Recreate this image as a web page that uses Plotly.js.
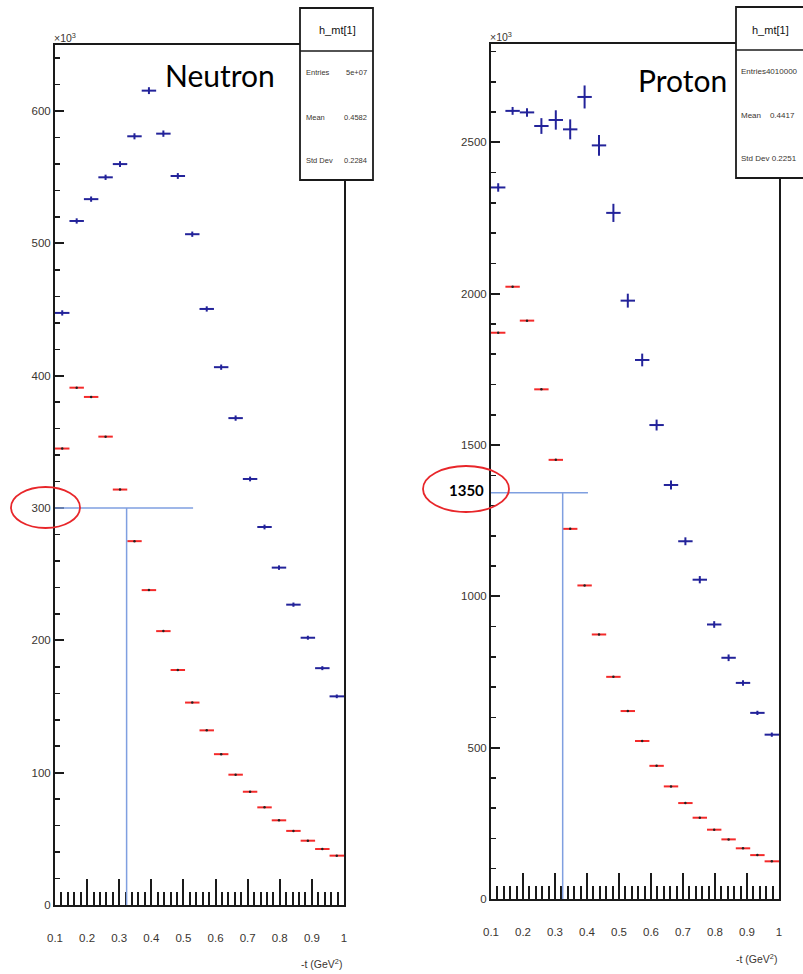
<!DOCTYPE html>
<html>
<head>
<meta charset="utf-8">
<script src="https://cdn.plot.ly/plotly-3.0.1.min.js"></script>
<style>html,body{margin:0;padding:0;background:#fff;}#chart{width:803px;height:974px;}</style>
</head>
<body>
<div id="chart"></div>
<script>
// ---- data ----
const tCenters = [0.1225,0.1675,0.2125,0.2575,0.3025,0.3475,0.3925,0.4375,0.4825,0.5275,0.5725,0.6175,0.6625,0.7075,0.7525,0.7975,0.8425,0.8875,0.9325,0.9775];
const binHalfWidth = 0.0225;
const neutronBlue = [447.5,517,533.5,550,560,581,615.5,583,551,507,450.5,406.5,368,322,285.7,255,227,202,179,157.7];
const neutronBlueErr = [2,2,2,2,2.2,2.3,2.6,2.4,2.2,2,2,2,2,1.8,1.8,1.7,1.6,1.5,1.5,1.4];
const neutronRed = [345,391,384,354,314,275,238,207,177.6,153,132,114,98.5,85.6,73.8,64,56,48.6,42.3,37.3];
const protonBlue = [2351,2604,2599,2554,2574,2543,2650,2490,2267,1977,1781,1566,1368,1182,1055,907,797,714,615,543];
const protonBlueErr = [14,13,14,26,32,33,38,34,30,23,21,18,15,13,12,11,11,9,7,7];
const protonRed = [1871,2023,1911,1684,1451,1223,1036,874,734,621,522,440,372,317,268.6,229,197,167.5,145,124.5];
const xTicks = [0.1,0.2,0.3,0.4,0.5,0.6,0.7,0.8,0.9,1.0];
const xTickText = ['0.1','0.2','0.3','0.4','0.5','0.6','0.7','0.8','0.9','1'];
const neutronYTicks = [0,100,200,300,400,500,600];
const protonYTicks = [0,500,1000,1500,2000,2500];
const neutronStats = {name:'h_mt[1]', entries:'5e+07', mean:'0.4582', std:'0.2284'};
const protonStats = {name:'h_mt[1]', entries:'4010000', mean:'0.4417', std:'0.2251'};
const neutronCut = {t:0.323, y:300, xEnd:0.53};
const protonCut = {t:0.324, y:1342, xEnd:0.403};

// ---- helpers ----
const W = 803, H = 974;
const PX = x => x / W;
const PY = y => 1 - y / H;
const BLUE = '#23239a', RED = '#f42a2a', LINEBLUE = '#7f9fe0', INK = '#1a1a1a', LBL = '#3a3530';

function histTrace(y, err, color, xa, ya, dot) {
  return {
    x: tCenters, y: y, xaxis: xa, yaxis: ya, type: 'scatter', mode: 'markers',
    marker: {size: dot ? 2.5 : 2, color: dot ? '#222' : color},
    error_x: {type:'constant', value: binHalfWidth, width: 0, thickness: 2, color: color},
    error_y: err ? {type:'data', array: err, width: 0, thickness: 2, color: color} : {visible:false},
    hoverinfo: 'skip', showlegend: false
  };
}

const data = [
  histTrace(neutronRed, null, RED, 'x', 'y', true),
  histTrace(neutronBlue, neutronBlueErr, BLUE, 'x', 'y', false),
  histTrace(protonRed, null, RED, 'x2', 'y2', true),
  histTrace(protonBlue, protonBlueErr, BLUE, 'x2', 'y2', false)
];

function xAxis(domain, anchor) {
  return {
    domain: domain, anchor: anchor, range: [0.1, 1.0],
    showgrid: false, zeroline: false, showline: true, linecolor: INK, linewidth: 2, mirror: true,
    ticks: 'inside', ticklen: 26, tickwidth: 2, tickcolor: INK,
    tickvals: xTicks, ticktext: xTickText,
    minor: {ticks: 'inside', dtick: 0.02, tick0: 0.1, ticklen: 13, tickwidth: 2, tickcolor: INK, showgrid: false},
    ticklabelstandoff: 21,
    tickfont: {family: 'Liberation Sans, Arial, sans-serif', size: 11.5, color: LBL}
  };
}
function yAxis(domain, anchor, range, ticks, minorStep) {
  return {
    domain: domain, anchor: anchor, range: range,
    showgrid: false, zeroline: false, showline: true, linecolor: INK, linewidth: 2, mirror: true,
    ticks: 'inside', ticklen: 9, tickwidth: 2, tickcolor: INK,
    tickvals: ticks, ticktext: ticks.map(String),
    minor: {ticks: 'inside', dtick: minorStep, tick0: 0, ticklen: 5, tickwidth: 1.5, tickcolor: INK, showgrid: false},
    tickfont: {family: 'Liberation Sans, Arial, sans-serif', size: 11.5, color: LBL}
  };
}

const shapes = [
  // blue cut lines (data coordinates)
  {type:'line', xref:'x', yref:'y', x0:0.1, x1:neutronCut.xEnd, y0:neutronCut.y, y1:neutronCut.y, line:{color:LINEBLUE, width:1.5}},
  {type:'line', xref:'x', yref:'y', x0:neutronCut.t, x1:neutronCut.t, y0:0, y1:neutronCut.y, line:{color:LINEBLUE, width:1.5}},
  {type:'line', xref:'x2', yref:'y2', x0:0.1, x1:protonCut.xEnd, y0:protonCut.y, y1:protonCut.y, line:{color:LINEBLUE, width:1.5}},
  {type:'line', xref:'x2', yref:'y2', x0:protonCut.t, x1:protonCut.t, y0:0, y1:protonCut.y, line:{color:LINEBLUE, width:1.5}},
  // red ellipses
  {type:'circle', xref:'paper', yref:'paper', x0:PX(11), x1:PX(80), y0:PY(528), y1:PY(487), line:{color:'#e8262a', width:1.8}, layer:'above'},
  {type:'circle', xref:'paper', yref:'paper', x0:PX(423), x1:PX(509), y0:PY(512), y1:PY(466), line:{color:'#e8262a', width:1.8}, layer:'above'},
  // stats boxes
  {type:'rect', xref:'paper', yref:'paper', x0:PX(300), x1:PX(373), y0:PY(180), y1:PY(8), fillcolor:'#fff', line:{color:INK, width:1.8}, layer:'above'},
  {type:'line', xref:'paper', yref:'paper', x0:PX(300), x1:PX(373), y0:PY(51), y1:PY(51), line:{color:INK, width:1.5}, layer:'above'},
  {type:'rect', xref:'paper', yref:'paper', x0:PX(736), x1:PX(812), y0:PY(178), y1:PY(7), fillcolor:'#fff', line:{color:INK, width:1.8}, layer:'above'},
  {type:'line', xref:'paper', yref:'paper', x0:PX(736), x1:PX(803), y0:PY(50), y1:PY(50), line:{color:INK, width:1.5}, layer:'above'}
];

function ann(x, y, text, size, opts) {
  return Object.assign({
    xref:'paper', yref:'paper', x: PX(x), y: PY(y), text: text, showarrow: false,
    xanchor:'left', yanchor:'middle',
    font:{family:'Liberation Sans, Arial, sans-serif', size: size, color: LBL}
  }, opts || {});
}

const annotations = [
  ann(52, 38, '×10<sup>3</sup>', 10.5),
  ann(488, 37, '×10<sup>3</sup>', 10.5),
  ann(163, 75, 'Neutron', 30, {font:{family:'Lato, Noto Sans, sans-serif', size:30, color:'#000'}}),
  ann(636, 80, 'Proton', 30, {font:{family:'Lato, Noto Sans, sans-serif', size:30, color:'#000'}}),
  ann(466, 490, '1350', 15, {xanchor:'center', font:{family:'Lato, Noto Sans, sans-serif', size:15, color:'#000', weight:700}}),
  ann(344, 963, '-t (GeV<sup>2</sup>)', 10.5, {xanchor:'right'}),
  ann(779, 958, '-t (GeV<sup>2</sup>)', 10.5, {xanchor:'right'}),
  // neutron stats
  ann(337, 30, neutronStats.name, 11, {xanchor:'center', font:{family:'Liberation Sans, Arial, sans-serif', size:11, color:'#111'}}),
  ann(304, 73, 'Entries', 7.5),
  ann(369, 73, neutronStats.entries, 7.5, {xanchor:'right'}),
  ann(304, 118, 'Mean', 7.5),
  ann(369, 118, neutronStats.mean, 7.5, {xanchor:'right'}),
  ann(304, 160, 'Std Dev', 7.5),
  ann(369, 160, neutronStats.std, 7.5, {xanchor:'right'}),
  // proton stats
  ann(750, 30, protonStats.name, 11, {font:{family:'Liberation Sans, Arial, sans-serif', size:11, color:'#111'}}),
  ann(739, 72, 'Entries' + protonStats.entries, 8),
  ann(739, 116, 'Mean&nbsp;&nbsp;&nbsp;&nbsp;' + protonStats.mean, 8),
  ann(739, 158, 'Std Dev ' + protonStats.std, 8)
];

const layout = {
  width: W, height: H,
  margin: {l:0, r:0, t:0, b:0},
  paper_bgcolor: '#fff', plot_bgcolor: '#fff',
  showlegend: false,
  xaxis: xAxis([PX(55), PX(344)], 'y'),
  yaxis: yAxis([PY(905), PY(45)], 'x', [0, 650], neutronYTicks, 20),
  xaxis2: xAxis([PX(491), PX(779)], 'y2'),
  yaxis2: yAxis([PY(899), PY(44)], 'x2', [0, 2825], protonYTicks, 100),
  shapes: shapes,
  annotations: annotations
};

Plotly.newPlot('chart', data, layout, {staticPlot: true, displayModeBar: false});
</script>
</body>
</html>
